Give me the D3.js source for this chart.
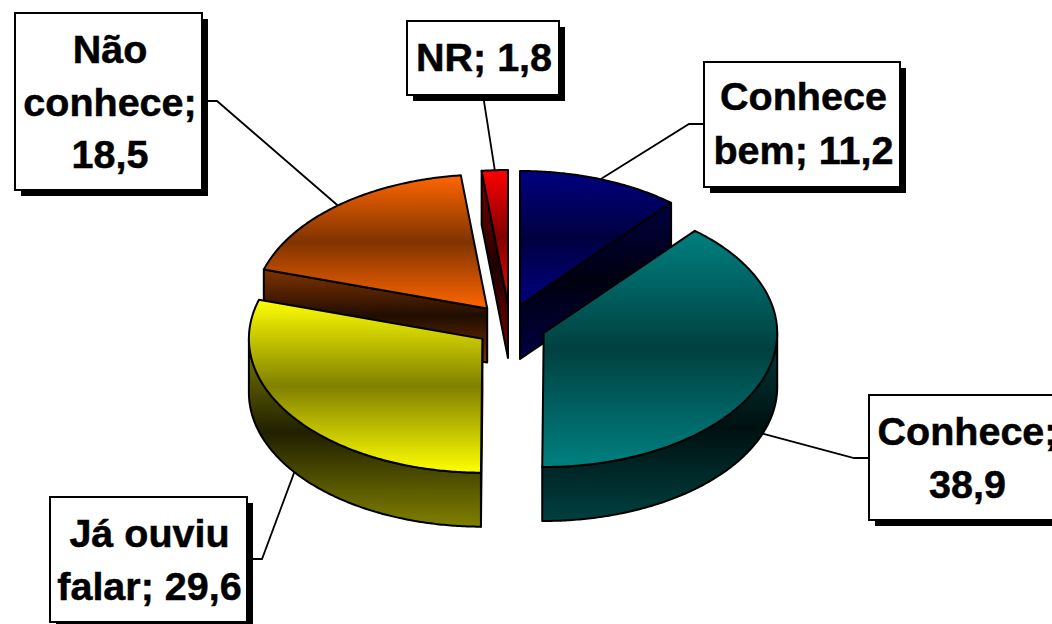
<!DOCTYPE html>
<html><head><meta charset="utf-8">
<script src="https://cdn.jsdelivr.net/npm/d3@7/dist/d3.min.js"></script>
<style>html,body{margin:0;padding:0;background:#fff;overflow:hidden}svg{display:block}</style>
</head><body><div id="chart"></div>
<script>
const categories = ["Conhece bem", "Conhece", "Já ouviu falar", "Não conhece", "NR"];
const values = [11.2, 38.9, 29.6, 18.5, 1.8];
const colors = ["#000080", "#008080", "#ffff00", "#ff6600", "#ff0000"];
const labelLines = [["Conhece", "bem; 11,2"], ["Conhece;", "38,9"], ["Já ouviu", "falar; 29,6"], ["Não", "conhece;", "18,5"], ["NR; 1,8"]];

const W = 1052, H = 624, RX = 233.5, RY = 134, DEPTH = 54;
// layout only
const sliceCentres = [[520, 305], [543.7, 333], [482.4, 338.7], [487.2, 308.5], [508, 304]];
const boxes = [
  {x: 704, y: 62, w: 196, h: 125, cx: 803.5, base: 110, step: 54, side: -1, ly: 124, elbow: 15},
  {x: 869, y: 395, w: 200, h: 125, cx: 967.5, base: 445, step: 53, side: -1, ly: 458, elbow: 15},
  {x: 50, y: 497, w: 197, h: 125, cx: 149.5, base: 547, step: 52.5, side: 1, ly: 559, elbow: 15},
  {x: 15, y: 13, w: 187, h: 177, cx: 110, base: 63, step: 52.5, side: 1, ly: 101, elbow: 15},
  {x: 407, y: 21, w: 152, h: 74, cx: 484, base: 71, step: 0, side: 0, ly: 95, elbow: 0}
];
const drawOrder = [0, 4, 3, 1, 2];

const svg = d3.select("#chart").append("svg").attr("width", W).attr("height", H);
const defs = svg.append("defs");

function shade(c, k) { const r = d3.rgb(c); return d3.rgb(r.r * k, r.g * k, r.b * k).formatHex(); }
function grad(id, a, b) {
  const g = defs.append("linearGradient").attr("id", id).attr("x1", 0).attr("y1", 0).attr("x2", 0).attr("y2", 1);
  g.append("stop").attr("offset", "0%").attr("stop-color", a);
  g.append("stop").attr("offset", "50%").attr("stop-color", b);
  g.append("stop").attr("offset", "100%").attr("stop-color", a);
}
colors.forEach((c, i) => {
  grad("face" + i, c, shade(c, 0.5));
  grad("wall" + i, shade(c, 0.5), shade(c, 0.125));
});

const pie = d3.pie().sort(null).value(d => d).startAngle(0).endAngle(2 * Math.PI);
const arcs = pie(values);

const slices = arcs.map((a, i) => {
  const [cx, cy] = sliceCentres[i];
  const x = d3.scaleLinear().domain([-1, 1]).range([cx - RX, cx + RX]);
  const y = d3.scaleLinear().domain([-1, 1]).range([cy + RY, cy - RY]);
  const pt = (t, dz = 0) => [x(Math.sin(t)), y(Math.cos(t)) + dz];
  const apex = (dz = 0) => [x(0), y(0) + dz];
  const sweep = (t0, t1, dz = 0) => {
    const n = Math.max(2, Math.ceil(Math.abs(t1 - t0) / 0.01));
    return d3.range(n + 1).map(k => pt(t0 + (t1 - t0) * k / n, dz));
  };
  return {a, i, pt, apex, sweep};
});

const line = d3.line();

// leader lines are underneath the pie, ending at each slice's mid-angle on its outer rim
const leaders = svg.append("g");
slices.forEach(s => {
  const b = boxes[s.i], mid = (s.a.startAngle + s.a.endAngle) / 2;
  const rim = s.pt(mid, Math.cos(mid) < 0 ? DEPTH : 0);
  let pts;
  if (b.side === 0) pts = [[b.cx - 1, b.ly], rim];
  else {
    const ex = b.side < 0 ? b.x : b.x + b.w;
    pts = [[ex, b.ly], [ex + b.side * b.elbow, b.ly], rim];
  }
  leaders.append("path").attr("d", line(pts)).attr("fill", "none").attr("stroke", "#000").attr("stroke-width", 1.8);
});

// slices, back to front
const pieG = svg.append("g").attr("stroke", "#000").attr("stroke-width", 2).attr("stroke-linejoin", "round");
drawOrder.forEach(i => {
  const s = slices[i], t0 = s.a.startAngle, t1 = s.a.endAngle;
  const radial = t => [s.pt(t), s.apex(), s.apex(DEPTH), s.pt(t, DEPTH)];
  if (Math.sin(t0) < -0.001) pieG.append("path").attr("d", line(radial(t0)) + "Z").attr("fill", `url(#wall${i})`);
  if (Math.sin(t1) > 0.001) pieG.append("path").attr("d", line(radial(t1)) + "Z").attr("fill", `url(#wall${i})`);
  const w0 = Math.max(t0, Math.PI / 2), w1 = Math.min(t1, 3 * Math.PI / 2);
  if (w1 > w0) {
    const pts = s.sweep(w0, w1).concat(s.sweep(w1, w0, DEPTH));
    pieG.append("path").attr("d", line(pts) + "Z").attr("fill", `url(#wall${i})`);
  }
  const face = [s.apex()].concat(s.sweep(t0, t1));
  pieG.append("path").attr("d", line(face) + "Z").attr("fill", `url(#face${i})`);
});

// data labels
const lab = svg.append("g");
boxes.forEach((b, i) => {
  lab.append("rect").attr("x", b.x + 6).attr("y", b.y + 6).attr("width", b.w).attr("height", b.h).attr("fill", "#000");
  lab.append("rect").attr("x", b.x).attr("y", b.y).attr("width", b.w).attr("height", b.h)
    .attr("fill", "#fff").attr("stroke", "#000").attr("stroke-width", 2);
  labelLines[i].forEach((t, k) => {
    lab.append("text").attr("x", b.cx).attr("y", b.base + k * b.step).attr("text-anchor", "middle")
      .attr("font-family", "'Liberation Sans', Arial, sans-serif").attr("font-weight", "bold")
      .attr("font-size", 39.5).attr("fill", "#000").attr("stroke", "#000").attr("stroke-width", 0.5).text(t);
  });
});
</script></body></html>
